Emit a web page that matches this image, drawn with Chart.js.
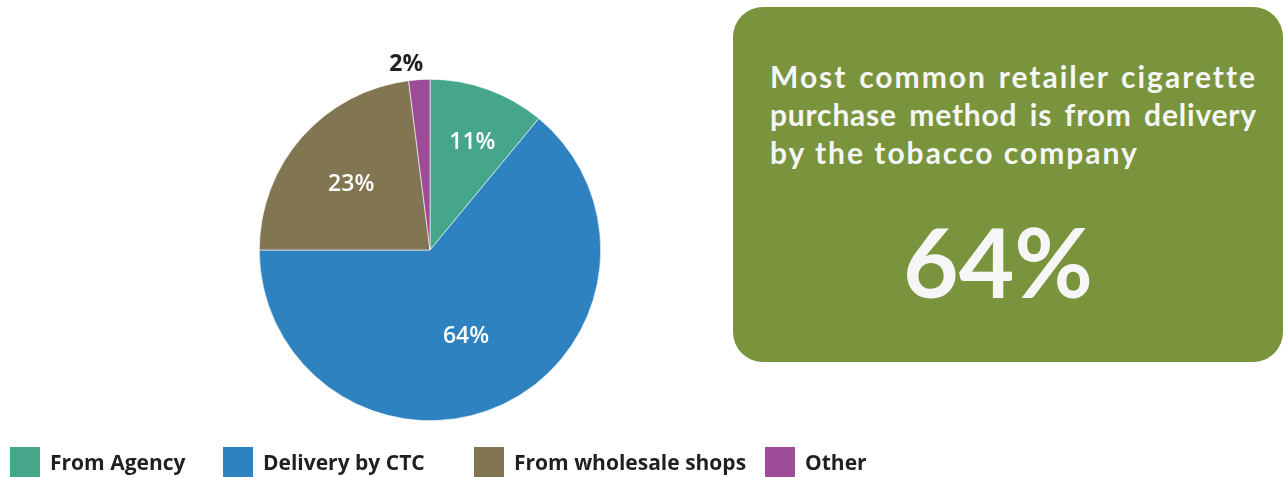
<!DOCTYPE html>
<html>
<head>
<meta charset="utf-8">
<script src="https://cdn.jsdelivr.net/npm/chart.js@4"></script>
<style>
  html, body { margin: 0; padding: 0; background: #fff; }
  body { width: 1283px; height: 477px; position: relative; overflow: hidden; font-family: "Open Sans", sans-serif; }
  #pieWrap { position: absolute; left: 229.5px; top: 50px; width: 400px; height: 400px; }
  #legend { position: absolute; left: 0; top: 447px; width: 1283px; height: 30px; }
  .item { position: absolute; top: 0; height: 30px; display: flex; align-items: center; }
  .item .sw { width: 30px; height: 30px; margin-right: 10px; }
  .item span { font-weight: 700; font-size: 21px; color: #231f20; line-height: 30px; }
  #callout { position: absolute; left: 733px; top: 7px; width: 550px; height: 355px; background: #79943c; border-radius: 30px; color: #f6f6f6; font-family: Lato, sans-serif; font-weight: 700; }
  #callout .head { position: absolute; left: 37px; top: 50px; width: 487px; font-size: 30px; line-height: 38px; letter-spacing: 2px; }
  #callout .head div { white-space: nowrap; }
  #callout .head .just { text-align: justify; text-align-last: justify; white-space: normal; }
  #callout .head .tight { letter-spacing: 0.8px; word-spacing: -7px; }
  #callout .big { position: absolute; left: 0; width: 530px; top: 199px; text-align: center; font-size: 96px; line-height: 110px; }
</style>
</head>
<body>
<div id="pieWrap"><canvas id="purchase"></canvas></div>
<div id="legend"></div>
<div id="callout">
  <div class="head">
    <div class="just">Most common retailer cigarette</div>
    <div class="just tight">purchase method is from delivery</div>
    <div>by the tobacco company</div>
  </div>
  <div class="big">64%</div>
</div>
<script>
const methods = ['From Agency', 'Delivery by CTC', 'From wholesale shops', 'Other'];
const shares = [11, 64, 23, 2];
const colors = ['#45a689', '#2e82bf', '#817552', '#9c4b96'];

// label placement: radius as a fraction of the pie radius, plus a small sideways nudge
const labelRadius = [0.68, 0.55, 0.6, 1.1];
const labelNudge = [3, -4, -2, -12];
const legendLeft = [10, 223, 474, 765];

const legend = document.getElementById('legend');
methods.forEach(function (m, i) {
  const el = document.createElement('div');
  el.className = 'item';
  el.style.left = legendLeft[i] + 'px';
  el.innerHTML = '<div class="sw" style="background:' + colors[i] + '"></div><span>' + m + '</span>';
  legend.appendChild(el);
});

const sliceLabels = {
  id: 'sliceLabels',
  afterDatasetsDraw(chart) {
    const c = chart.ctx;
    const meta = chart.getDatasetMeta(0);
    c.save();
    c.textAlign = 'center';
    c.textBaseline = 'middle';
    meta.data.forEach(function (arc, i) {
      const mid = (arc.startAngle + arc.endAngle) / 2;
      const r = arc.outerRadius * labelRadius[i];
      const x = arc.x + Math.cos(mid) * r + labelNudge[i];
      const y = arc.y + Math.sin(mid) * r;
      const outside = labelRadius[i] > 1;
      c.fillStyle = outside ? '#231f20' : '#ffffff';
      c.font = outside ? '700 23px "Open Sans"' : '600 23px "Open Sans"';
      c.fillText(shares[i] + '%', x, y + 2);
    });
    c.restore();
  }
};

const ctx = document.getElementById('purchase').getContext('2d');
const purchase = new Chart(ctx, {
  type: 'pie',
  data: {
    labels: methods,
    datasets: [{
      data: shares,
      backgroundColor: colors,
      borderColor: '#ffffff',
      borderWidth: 0.6
    }]
  },
  options: {
    responsive: true,
    maintainAspectRatio: false,
    animation: false,
    layout: { padding: 29 },
    plugins: {
      legend: { display: false },
      tooltip: { enabled: false }
    }
  },
  plugins: [sliceLabels]
});
</script>
</body>
</html>
